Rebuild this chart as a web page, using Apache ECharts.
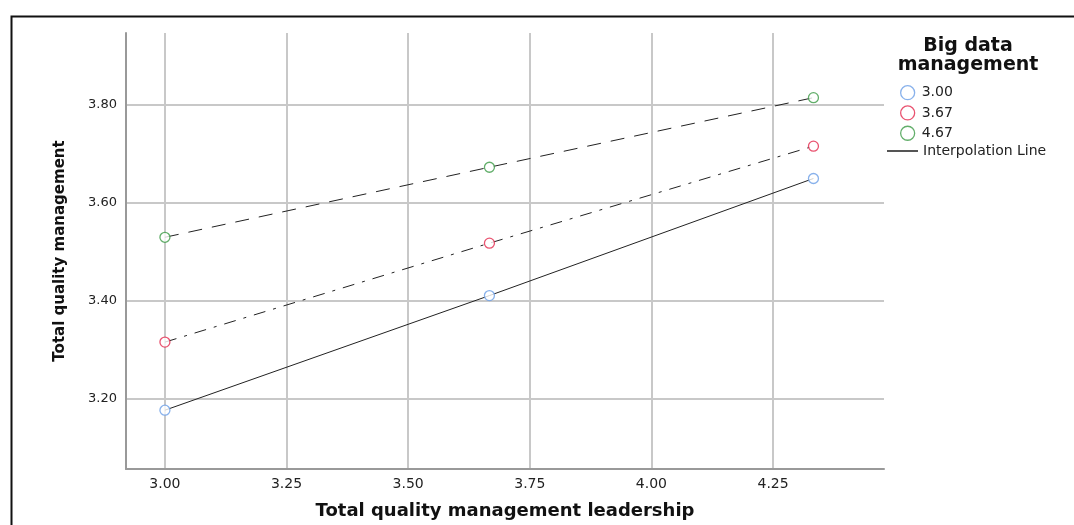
<!DOCTYPE html>
<html>
<head>
<meta charset="utf-8">
<script src="https://cdn.jsdelivr.net/npm/echarts@6/dist/echarts.min.js"></script>
<style>
  html, body { margin: 0; padding: 0; background: #fff; }
  #chart { width: 1074px; height: 525px; }
</style>
</head>
<body>
<div id="chart"></div>
<script>
// leadership levels on x, one line per level of big data management
const leadership = [3.0, 3.667, 4.333];
const groups = ['3.00', '3.67', '4.67'];
const tqmLow = [3.176, 3.41, 3.649];   // 3.00
const tqmMid = [3.315, 3.517, 3.715];  // 3.67
const tqmHigh = [3.529, 3.672, 3.814]; // 4.67
const xTicks = [3.0, 3.25, 3.5, 3.75, 4.0, 4.25];
const yTicks = [3.2, 3.4, 3.6, 3.8];

const markerColors = ['#6a9ee6', '#e4284c', '#3b9a45'];
const dashTypes = ['solid', [12, 8, 3, 8], [14, 10]];
const font = "'DejaVu Sans', Arial, sans-serif";

function pairs(ys) {
  return leadership.map((x, i) => [x, ys[i]]);
}

let allValues = [tqmLow, tqmMid, tqmHigh];
let series = [];
// interpolation lines first (black, different dash)
allValues.forEach((vals, i) => {
  series.push({
    name: 'Interpolation Line',
    type: 'line',
    data: pairs(vals),
    symbol: 'none',
    silent: true,
    z: 2,
    lineStyle: { color: '#222', width: 1, type: dashTypes[i] },
    itemStyle: { color: '#555' }
  });
});
allValues.forEach((vals, i) => {
  series.push({
    name: groups[i],
    type: 'scatter',
    data: pairs(vals),
    symbol: 'circle',
    symbolSize: 10,
    z: 3,
    itemStyle: { color: '#fff', borderColor: markerColors[i], borderWidth: 1.3 }
  });
});

let chart = echarts.init(document.getElementById('chart'));
let option = {
  animation: false,
  backgroundColor: '#fff',
  grid: { left: 126, right: 190, top: 33, bottom: 53 },
  xAxis: {
    type: 'value',
    min: 2.92,
    max: 4.478,
    name: 'Total quality management leadership',
    nameLocation: 'middle',
    nameGap: 33,
    nameTextStyle: { fontFamily: font, fontWeight: 'bold', fontSize: 18, color: '#111' },
    axisLine: { lineStyle: { color: '#999', width: 2 } },
    axisTick: { show: false, customValues: xTicks },
    axisLabel: {
      customValues: xTicks,
      formatter: v => v.toFixed(2),
      color: '#222', fontSize: 14, fontFamily: font, margin: 8
    },
    splitLine: { show: true, lineStyle: { color: '#c8c8c8', width: 2 } }
  },
  yAxis: {
    type: 'value',
    min: 3.056,
    max: 3.946,
    name: 'Total quality management',
    nameLocation: 'middle',
    nameGap: 58,
    nameTextStyle: { fontFamily: font, fontWeight: 'bold', fontSize: 15, color: '#111' },
    axisLine: { show: true, lineStyle: { color: '#999', width: 2 } },
    axisTick: { show: false, customValues: yTicks },
    axisLabel: {
      customValues: yTicks,
      formatter: v => v.toFixed(2),
      color: '#222', fontSize: 13, fontFamily: font, margin: 9
    },
    splitLine: { show: true, lineStyle: { color: '#c8c8c8', width: 2 } }
  },
  legend: [{
    orient: 'vertical',
    left: 895,
    top: 80,
    itemWidth: 18,
    itemHeight: 14,
    itemGap: 5,
    icon: 'circle',
    data: groups.map((g, i) => ({
      name: g,
      itemStyle: { color: '#fff', borderColor: markerColors[i], borderWidth: 1.3 }
    })),
    textStyle: { fontFamily: font, fontSize: 14, color: '#222' }
  }, {
    left: 882,
    top: 139,
    itemWidth: 31,
    itemHeight: 2,
    icon: 'rect',
    data: [{ name: 'Interpolation Line', itemStyle: { color: '#555' } }],
    textStyle: { fontFamily: font, fontSize: 14, color: '#222' }
  }],
  graphic: [{
    type: 'text',
    x: 968,
    y: 37,
    style: {
      text: 'Big data\nmanagement',
      align: 'center',
      verticalAlign: 'top',
      fontFamily: font,
      fontWeight: 'bold',
      fontSize: 19,
      lineHeight: 19,
      fill: '#111'
    }
  }, {
    type: 'rect',
    left: 9,
    top: 14,
    z: -1,
    shape: { width: 1080, height: 530 },
    style: { fill: 'none', stroke: '#111', lineWidth: 2 }
  }],
  series: series
};
chart.setOption(option);
window.onresize = () => {
  chart.resize();
};
</script>
</body>
</html>
